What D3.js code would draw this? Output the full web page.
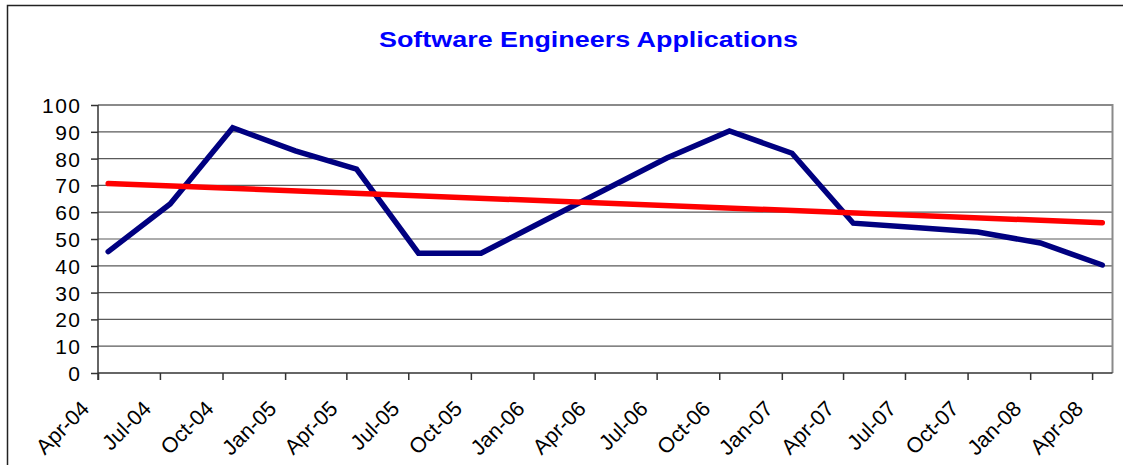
<!DOCTYPE html>
<html>
<head>
<meta charset="utf-8">
<script src="https://cdn.jsdelivr.net/npm/d3@7"></script>
<style>
  body { margin: 0; background: #fff; }
  text { font-family: "Liberation Sans", Arial, sans-serif; }
</style>
</head>
<body>
<div id="chart"></div>
<script>
// quarterly readings, taken mid-month
var quarters = ["2004-04-16","2004-07-16","2004-10-16","2005-01-16","2005-04-16","2005-07-16",
                "2005-10-16","2006-01-16","2006-04-16","2006-07-16","2006-10-16","2007-01-16",
                "2007-04-16","2007-07-16","2007-10-16","2008-01-16","2008-04-16"];
var applications = [45.3, 63.1, 91.5, 82.9, 76.1, 44.7, 44.7, 56.7, 68.4, 80.2, 90.3, 82.0,
                    55.9, 54.3, 52.6, 48.5, 40.3];
var yTicks = [0, 10, 20, 30, 40, 50, 60, 70, 80, 90, 100];
var chartTitle = "Software Engineers Applications";

var width = 1123, height = 465;
var plotLeft = 98, plotRight = 1112.5, plotTop = 105, plotBottom = 373;

var parse = d3.timeParse("%Y-%m-%d");
var data = quarters.map(function(q, i){ return {date: parse(q), value: applications[i]}; });

var svg = d3.select("#chart").append("svg")
    .attr("width", width)
    .attr("height", height);

// outer chart frame
svg.append("rect")
    .attr("x", 7.5).attr("y", 5.5)
    .attr("width", width).attr("height", height)
    .attr("fill", "none")
    .attr("stroke", "#222")
    .attr("stroke-width", 1.5);

var x = d3.scaleTime()
    .domain([new Date(2004, 3, 1), new Date(2008, 4, 1)])
    .range([plotLeft, plotRight]);
var y = d3.scaleLinear()
    .domain([0, 100])
    .range([plotBottom, plotTop]);

svg.append("text")
    .attr("x", 379).attr("y", 47)
    .attr("textLength", 419)
    .attr("lengthAdjust", "spacingAndGlyphs")
    .style("font-size", "21.5px")
    .style("font-weight", "bold")
    .style("fill", "#0000ff")
    .text(chartTitle);

// gridlines
svg.append("g")
    .selectAll("line")
    .data(yTicks.filter(function(d){ return d > 0 && d < 100; }))
    .enter().append("line")
    .attr("x1", plotLeft).attr("x2", plotRight)
    .attr("y1", function(d){ return y(d); })
    .attr("y2", function(d){ return y(d); })
    .attr("stroke", "#5a5a5a")
    .attr("stroke-width", 1.2);

// plot area border top + right
svg.append("path")
    .attr("d", "M" + plotLeft + "," + y(100) + "H" + plotRight + "V" + plotBottom)
    .attr("fill", "none")
    .attr("stroke", "#8a8a8a")
    .attr("stroke-width", 2);

var yAxis = svg.append("g")
    .attr("transform", "translate(" + plotLeft + ",0)")
    .call(d3.axisLeft(y).tickValues(yTicks).tickSize(7).tickSizeOuter(0).tickPadding(11));
yAxis.selectAll("text")
    .style("font-size", "21px")
    .style("letter-spacing", "1.5px")
    .attr("dx", "1.5")
    .attr("dy", "0.36em")
    .style("fill", "#000");

var xTicks = d3.timeMonth.every(3).range(new Date(2004, 3, 1), new Date(2008, 4, 1));
var xAxis = svg.append("g")
    .attr("transform", "translate(0," + plotBottom + ")")
    .call(d3.axisBottom(x).tickValues(xTicks).tickSize(7).tickSizeOuter(0)
        .tickFormat(d3.timeFormat("%b-%y")));
xAxis.selectAll("text")
    .attr("x", 0).attr("y", 0).attr("dy", 0)
    .attr("text-anchor", "end")
    .attr("transform", "translate(-8,37) rotate(-45)")
    .style("font-size", "21.5px")
    .style("fill", "#000");

svg.selectAll(".domain, .tick line")
    .attr("stroke", "#333")
    .attr("stroke-width", 1.5);
yAxis.select(".domain").attr("d", "M0," + (plotBottom + 7) + "V" + plotTop);
xAxis.select(".domain").attr("d", "M" + plotLeft + ",0H" + plotRight);

var line = d3.line()
    .x(function(d){ return x(d.date); })
    .y(function(d){ return y(d.value); });

svg.append("path")
    .datum(data)
    .attr("d", line)
    .attr("fill", "none")
    .attr("stroke", "#000080")
    .attr("stroke-width", 5.5)
    .attr("stroke-linejoin", "miter")
    .attr("stroke-linecap", "round");

// linear trendline (least squares over the quarter index)
var n = data.length;
var mx = d3.mean(data, function(d, i){ return i; });
var my = d3.mean(data, function(d){ return d.value; });
var sxy = d3.sum(data, function(d, i){ return (i - mx) * (d.value - my); });
var sxx = d3.sum(data, function(d, i){ return (i - mx) * (i - mx); });
var slope = sxy / sxx;
var trend = [
  {date: data[0].date, value: my - slope * mx},
  {date: data[n - 1].date, value: my + slope * (n - 1 - mx)}
];

svg.append("path")
    .datum(trend)
    .attr("d", line)
    .attr("fill", "none")
    .attr("stroke", "#ff0000")
    .attr("stroke-width", 5.5)
    .attr("stroke-linecap", "round");
</script>
</body>
</html>
